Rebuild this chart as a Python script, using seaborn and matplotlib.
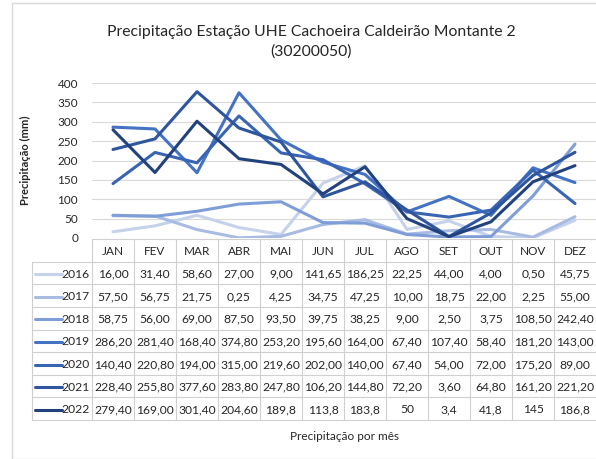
import pandas as pd
import matplotlib.pyplot as plt
import seaborn as sns
from matplotlib.patches import Rectangle

# Dados de precipitação (mm)
meses = ['JAN', 'FEV', 'MAR', 'ABR', 'MAI', 'JUN', 'JUL', 'AGO', 'SET', 'OUT', 'NOV', 'DEZ']
anos = ['2016', '2017', '2018', '2019', '2020', '2021', '2022']
p2016 = [16.00, 31.40, 58.60, 27.00, 9.00, 141.65, 186.25, 22.25, 44.00, 4.00, 0.50, 45.75]
p2017 = [57.50, 56.75, 21.75, 0.25, 4.25, 34.75, 47.25, 10.00, 18.75, 22.00, 2.25, 55.00]
p2018 = [58.75, 56.00, 69.00, 87.50, 93.50, 39.75, 38.25, 9.00, 2.50, 3.75, 108.50, 242.40]
p2019 = [286.20, 281.40, 168.40, 374.80, 253.20, 195.60, 164.00, 67.40, 107.40, 58.40, 181.20, 143.00]
p2020 = [140.40, 220.80, 194.00, 315.00, 219.60, 202.00, 140.00, 67.40, 54.00, 72.00, 175.20, 89.00]
p2021 = [228.40, 255.80, 377.60, 283.80, 247.80, 106.20, 144.80, 72.20, 3.60, 64.80, 161.20, 221.20]
p2022 = [279.40, 169.0, 301.40, 204.60, 189.8, 113.8, 183.8, 50, 3.4, 41.8, 145, 186.8]
# textos da tabela como aparecem no gráfico original
txt2022 = ['279,40', '169,00', '301,40', '204,60', '189,8', '113,8', '183,8', '50', '3,4', '41,8', '145', '186,8']

series = [p2016, p2017, p2018, p2019, p2020, p2021, p2022]
cores = ['#c5d2ea', '#a8bbe2', '#7f9ed8', '#4472c4', '#3864b4', '#2e559d', '#22427e']
texto = '#262626'

df = pd.DataFrame([(a, m, v) for a, vals in zip(anos, series) for m, v in zip(meses, vals)],
                  columns=['Ano', 'Mes', 'Precipitacao'])

sns.set_theme(style="white")
plt.rcParams['font.family'] = ['Lato', 'DejaVu Sans']

fig = plt.figure(figsize=(5.96, 4.59), dpi=100)
W, H = 596, 459
ax = fig.add_axes([92 / W, 221 / H, 504 / W, 155 / H])

sns.lineplot(data=df, x='Mes', y='Precipitacao', hue='Ano', palette=cores,
             linewidth=2.2, sort=False, legend=False, ax=ax)
ax.set_xlim(-0.5, 11.5)
ax.set_ylim(0, 400)
ax.set_yticks(range(0, 401, 50))
ax.set_xticks([])
ax.set_xlabel('')
ax.set_ylabel('')
ax.tick_params(axis='y', length=0, labelsize=8.5, labelcolor=texto, pad=10)
ax.grid(axis='y', color='#d9d9d9', linewidth=0.8)
ax.set_axisbelow(True)
for s in ax.spines.values():
    s.set_visible(False)

# Tabela de dados
tab = fig.add_axes([92 / W, 39 / H, 504 / W, 181 / H])
tab.set_xlim(-0.5, 11.5)
tab.set_ylim(8, 0)
tab.axis('off')
cor_linha = '#d0d0d0'
esq = -0.5 - 60 / 42
tab.plot([-0.5, 11.5], [0, 0], color=cor_linha, lw=0.8, clip_on=False)
for r in range(1, 9):
    tab.plot([esq, 11.5], [r, r], color=cor_linha, lw=0.8, clip_on=False)
tab.plot([esq, esq], [1, 8], color=cor_linha, lw=0.8, clip_on=False)
for c in range(12):
    tab.plot([c - 0.5, c - 0.5], [0, 8], color=cor_linha, lw=0.8, clip_on=False)
for i, m in enumerate(meses):
    tab.text(i, 0.55, m, ha='center', va='center', fontsize=8.5, color=texto)

def fmt(v):
    return f'{v:.2f}'.replace('.', ',')

for r, (a, vals, cor) in enumerate(zip(anos, series, cores)):
    y = r + 1.55
    textos = txt2022 if a == '2022' else [fmt(v) for v in vals]
    for i, t in enumerate(textos):
        tab.text(i, y, t, ha='center', va='center', fontsize=8.7, color=texto)
    tab.text(-0.55, y, a, ha='right', va='center', fontsize=8.7, color=texto)
    tab.plot([esq + 0.08, esq + 0.72], [y, y], color=cor, lw=2.2, clip_on=False)

# Títulos e rótulos
fig.text(311 / W, 1 - 42 / H, 'Precipitação Estação UHE Cachoeira Caldeirão Montante 2\n(30200050)',
         ha='center', va='center', fontsize=11.3, color=texto, linespacing=1.5)
fig.text(25 / W, 1 - 160 / H, 'Precipitação (mm)', rotation=90, ha='center', va='center',
         fontsize=8, fontweight='bold', color=texto)
fig.text(344 / W, 1 - 436 / H, 'Precipitação por mês', ha='center', va='center',
         fontsize=8.5, color=texto)

fig.patches.append(Rectangle((12 / W, 0), 1, 1 - 3 / H, transform=fig.transFigure,
                             fill=False, edgecolor='#d9d9d9', linewidth=1))

plt.savefig('out.png', dpi=100)
